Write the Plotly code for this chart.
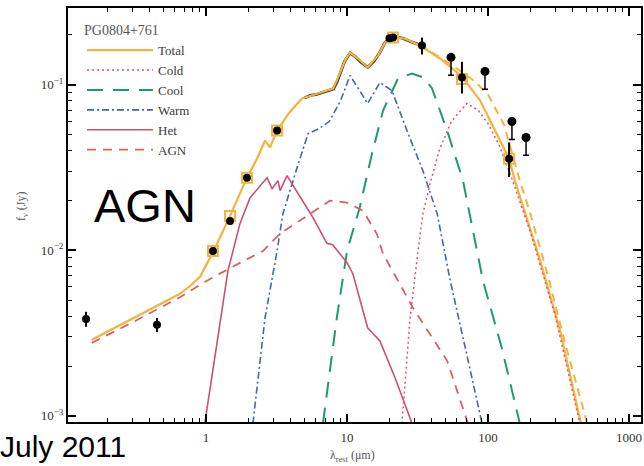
import plotly.graph_objects as go
import numpy as np

# ---------------- data ----------------
lam_total = [0.155, 0.3, 0.45, 0.654, 0.77, 0.906, 1.0, 1.12, 1.48, 1.95, 2.3, 2.62, 2.84, 3.19, 3.9, 4.8,
             6.2, 7.96, 8.46, 9.66, 10.5, 11.96, 14.0, 16.6, 18.6, 21.2, 25.7, 32.9, 45.6, 65.3, 87.8,
             121.9, 141, 155, 234, 324, 470]
f_total = [0.00288, 0.00385, 0.00462, 0.00546, 0.00608, 0.0069, 0.0081, 0.0097, 0.0161, 0.0274, 0.0357,
           0.0459, 0.0417, 0.0527, 0.0678, 0.0823, 0.0882, 0.0946, 0.1057, 0.1396, 0.156, 0.1436, 0.1267,
           0.150, 0.179, 0.195, 0.189, 0.172, 0.1436, 0.1118, 0.080, 0.0459, 0.0357, 0.0263, 0.00865,
           0.00327, 0.0008]

lam_total2 = [32.9, 45, 60, 80, 100, 130, 168, 200, 260, 350, 505]
f_total2 = [0.172, 0.147, 0.125, 0.105, 0.087, 0.057, 0.0263, 0.0165, 0.0075, 0.0028, 0.0009]

lam_cold = [24.5, 28, 31.9, 34.5, 38.8, 45, 55, 70.7, 85, 100, 120, 150, 200, 300, 450]
f_cold = [0.0009, 0.0039, 0.00994, 0.0166, 0.0252, 0.040, 0.060, 0.0768, 0.070, 0.058, 0.043, 0.026,
          0.0128, 0.0040, 0.00088]

lam_cool = [6.75, 8.46, 10, 12.3, 15, 18, 23, 28.9, 35, 40, 51.3, 66.4, 92, 125, 168]
f_cool = [0.0009, 0.0039, 0.0099, 0.0181, 0.038, 0.0697, 0.109, 0.1165, 0.11, 0.095, 0.0527, 0.0263,
          0.00655, 0.00258, 0.0009]

lam_warm = [2.15, 2.62, 3.19, 3.51, 4.42, 5.3, 6.3, 7.5, 9.0, 10.5, 12, 14, 17.1, 20.8, 26.6, 34.5,
            43.6, 53.9, 70, 90.6]
f_warm = [0.0009, 0.0039, 0.0099, 0.0166, 0.0315, 0.0506, 0.054, 0.060, 0.080, 0.1133, 0.095, 0.0768,
          0.1028, 0.092, 0.0527, 0.0302, 0.0166, 0.00655, 0.00243, 0.0009]

lam_hot = [0.98, 1.22, 1.43, 1.74, 2.05, 2.71, 2.94, 3.24, 3.35, 3.75, 4.5, 5.74, 7.2, 7.9, 10, 11, 14,
           17.1, 22, 28.9]
f_hot = [0.0009, 0.00313, 0.0075, 0.01446, 0.0207, 0.0274, 0.0235, 0.0263, 0.0229, 0.0282, 0.0219,
         0.0157, 0.0110, 0.0108, 0.0084, 0.00721, 0.0034, 0.00283, 0.00168, 0.0009]

lam_agn = [0.155, 0.3, 0.654, 1.0, 1.48, 2.54, 3.35, 5.47, 7.57, 10, 13, 16.3, 18, 29.4, 51.3, 72]
f_agn = [0.00276, 0.00366, 0.0052, 0.0065, 0.0078, 0.0099, 0.0126, 0.0166, 0.0199, 0.0194, 0.0173,
         0.0125, 0.0095, 0.00448, 0.00215, 0.0009]

lam_irs = [5.0, 5.5, 6.0, 6.5, 7.0, 7.5, 8.0, 8.5, 9.0, 9.6, 10.5, 11.5, 12.5, 14, 15.5, 17, 18.5, 20,
           22, 25, 28, 32, 35]
f_irs = [0.083, 0.086, 0.087, 0.089, 0.0905, 0.092, 0.094, 0.104, 0.118, 0.138, 0.155, 0.147, 0.137,
         0.127, 0.138, 0.155, 0.178, 0.190, 0.195, 0.190, 0.182, 0.174, 0.17]

lam_det = [0.141, 0.449, 1.12, 1.48, 1.95, 3.19, 20.0, 21.2, 34, 65.3, 141]
f_det = [0.00385, 0.00355, 0.0099, 0.0150, 0.0274, 0.0527, 0.19, 0.192, 0.172, 0.1102, 0.0357]
err_up = [0.0004, 0.00035, 0.0004, 0.0005, 0.0008, 0.0015, 0.005, 0.005, 0.02, 0.027, 0.009]
err_dn = [0.0004, 0.00035, 0.0004, 0.0005, 0.0008, 0.0015, 0.005, 0.005, 0.02, 0.022, 0.008]

lam_lim = [54.6, 95.1, 147.7, 186]
f_lim = [0.146, 0.120, 0.0598, 0.0479]

lam_mod = [1.12, 1.48, 1.95, 3.19, 21.2, 65.3, 141]
f_mod = [0.0099, 0.0161, 0.0274, 0.0527, 0.192, 0.108, 0.0357]

x_tickvals = [1, 10, 100, 1000]
x_ticktext = ["1", "10", "100", "1000"]
y_tickvals = [0.001, 0.01, 0.1]
y_ticktext = ["10<sup>−3</sup>", "10<sup>−2</sup>", "10<sup>−1</sup>"]

C_TOTAL = "#F4B23E"
C_COLD = "#E8515E"
C_COOL = "#1E9B6E"
C_WARM = "#4466B3"
C_HOT = "#C9526F"
C_AGN = "#D9625F"

SERIF = "Liberation Serif"

fig = go.Figure()

# IRS spectrum (under the total)
fig.add_trace(go.Scatter(x=lam_irs, y=f_irs, mode="lines", line=dict(color="#333333", width=3.0),
                         showlegend=False, hoverinfo="skip"))

fig.add_trace(go.Scatter(x=lam_total, y=f_total, mode="lines", name="Total",
                         line=dict(color=C_TOTAL, width=2.2)))
fig.add_trace(go.Scatter(x=lam_cold, y=f_cold, mode="lines", name="Cold",
                         line=dict(color=C_COLD, width=1.5, dash="2px,3px")))
fig.add_trace(go.Scatter(x=lam_cool, y=f_cool, mode="lines", name="Cool",
                         line=dict(color=C_COOL, width=2, dash="16px,10px")))
fig.add_trace(go.Scatter(x=lam_warm, y=f_warm, mode="lines", name="Warm",
                         line=dict(color=C_WARM, width=1.6, dash="7px,3px,2px,3px")))
fig.add_trace(go.Scatter(x=lam_hot, y=f_hot, mode="lines", name="Het",
                         line=dict(color=C_HOT, width=1.6)))
fig.add_trace(go.Scatter(x=lam_agn, y=f_agn, mode="lines", name="AGN",
                         line=dict(color=C_AGN, width=1.8, dash="9px,7px")))
fig.add_trace(go.Scatter(x=lam_total2, y=f_total2, mode="lines", showlegend=False,
                         line=dict(color=C_TOTAL, width=2, dash="8px,6px")))

# model photometry squares
fig.add_trace(go.Scatter(x=lam_mod, y=f_mod, mode="markers", showlegend=False,
                         marker=dict(symbol="square-open", size=10, color=C_TOTAL,
                                     line=dict(width=2, color=C_TOTAL))))
# detections
fig.add_trace(go.Scatter(x=lam_det, y=f_det, mode="markers", showlegend=False,
                         marker=dict(symbol="circle", size=8, color="black"),
                         error_y=dict(type="data", symmetric=False, array=err_up, arrayminus=err_dn,
                                      color="black", thickness=2, width=0)))
# upper limits
fig.add_trace(go.Scatter(x=lam_lim, y=f_lim, mode="markers", showlegend=False,
                         marker=dict(symbol="circle", size=9, color="black"),
                         error_y=dict(type="percent", symmetric=False, value=0, valueminus=22,
                                      color="black", thickness=1.5, width=3)))

axis_common = dict(type="log", showgrid=False, zeroline=False, showline=True, linecolor="black",
                   linewidth=2, mirror="ticks", ticks="inside", ticklen=8, tickwidth=1.5,
                   tickcolor="black", tickfont=dict(family=SERIF, size=13, color="#333333"),
                   automargin=False)

fig.update_xaxes(**axis_common, range=[np.log10(0.105), np.log10(1215)],
                 tickvals=x_tickvals, ticktext=x_ticktext, ticklabelstandoff=2,
                 minor=dict(ticks="inside", ticklen=4, tickwidth=1.2, tickcolor="black", dtick="D1",
                            showgrid=False))
fig.update_yaxes(**axis_common, range=[-3.037, -0.538],
                 tickvals=y_tickvals, ticktext=y_ticktext,
                 minor=dict(ticks="inside", ticklen=4, tickwidth=1.2, tickcolor="black", dtick="D1",
                            showgrid=False))

L, R, T, B = 68, 3, 8, 44
W, H = 644, 466
pw, ph = W - L - R, H - T - B


def px(X):
    return (X - L) / pw


def py(Y):
    return (H - B - Y) / ph


fig.update_layout(
    width=W, height=H, margin=dict(l=L, r=R, t=T, b=B, autoexpand=False),
    paper_bgcolor="white", plot_bgcolor="white",
    legend=dict(x=px(82), y=py(17), xanchor="left", yanchor="top", bgcolor="rgba(0,0,0,0)",
                itemwidth=66, font=dict(family=SERIF, size=13, color="#3a3a3a"),
                title=dict(text="PG0804+761", font=dict(family=SERIF, size=14, color="#555555"))),
    annotations=[
        dict(text="AGN", x=px(92), y=py(205), xref="paper", yref="paper", showarrow=False,
             xanchor="left", yanchor="middle", font=dict(family="Liberation Sans", size=47, color="black")),
        dict(text="July 2011", x=px(-2), y=py(446), xref="paper", yref="paper", showarrow=False,
             xanchor="left", yanchor="middle", font=dict(family="Liberation Sans", size=30, color="black")),
        dict(text="f<sub>ν</sub> (Jy)", x=px(22), y=py(207), xref="paper", yref="paper", showarrow=False,
             textangle=-90, xanchor="center", yanchor="middle",
             font=dict(family=SERIF, size=12, color="#555555")),
        dict(text="λ<sub>rest</sub> (μm)", x=px(352), y=py(456), xref="paper", yref="paper", showarrow=False,
             xanchor="center", yanchor="middle", font=dict(family=SERIF, size=12, color="#555555")),
    ],
)

fig.write_html("out.html", config={"displayModeBar": False},
               post_script="document.body.style.margin='0';")
